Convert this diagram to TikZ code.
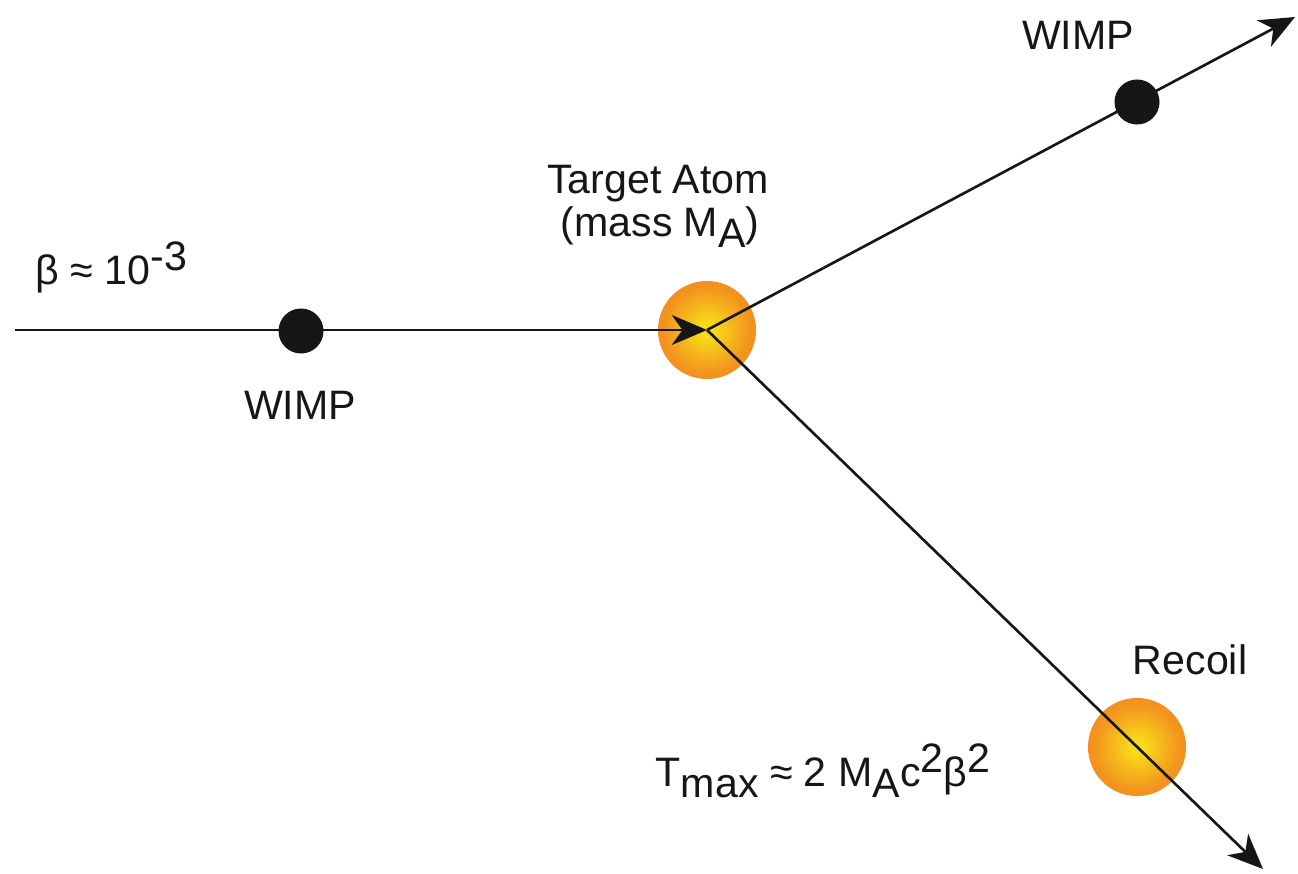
\documentclass[tikz,border=0pt]{standalone}
\usepackage{fontspec}
\setmainfont{Liberation Sans}
\usetikzlibrary{arrows.meta}

\definecolor{glowcore}{RGB}{248,220,25}
\definecolor{glowmid}{RGB}{243,148,30}
\definecolor{glowrim}{RGB}{238,124,36}
\definecolor{ink}{RGB}{22,22,22}

\pgfdeclareradialshading{atomglow}{\pgfpoint{0bp}{0bp}}{%
  color(0bp)=(glowcore); color(3bp)=(glowcore); color(22bp)=(glowmid);
  color(42bp)=(glowrim); color(50bp)=(glowrim)}

% raised / lowered indices at full size
\newcommand{\hi}[1]{\raisebox{0.32em}{#1}}
\newcommand{\lo}[1]{\raisebox{-0.27em}{#1}}

\tikzset{
  track/.style={draw=ink, line width=0.75pt, -{Stealth[length=10pt,width=8.5pt,inset=3pt]}},
  wimpdot/.style={circle, fill=ink, inner sep=0pt, minimum size=0.45cm},
  atom/.style={circle, shading=atomglow, inner sep=0pt, minimum size=0.98cm},
  lbl/.style={font=\fontsize{11.7}{14}\selectfont, text=ink, inner sep=0pt},
}

\begin{document}
\begin{tikzpicture}[x=0.01cm, y=-0.01cm]
  \useasboundingbox (0,0) rectangle (1298,873);

  % target atom and recoiling atom
  \node[atom] (target) at (707,330) {};
  \node[atom] (recoil) at (1137,747) {};

  % free ends of the tracks
  \coordinate (source) at (15,330);
  \coordinate (scatterend) at (1295,17);
  \coordinate (recoilend) at (1263,869);

  % tracks
  \draw[track] (source) -- (target.center);
  \draw[track] (target.center) -- (scatterend);
  \draw[track] (target.center) -- (recoilend);

  % WIMPs on their tracks
  \node[wimpdot] (wimpin) at (301,331) {};
  \node[wimpdot] (wimpout) at (1137,102) {};

  % labels
  \node[lbl, anchor=base west] (beta) at (35,284) {β ≈ 10\hi{-3}};
  \node[lbl] (wimpinlbl) at (300,405) {WIMP};
  \node[lbl, anchor=base] (targetlbl) at (658,193) {Target Atom};
  \node[lbl, anchor=base] (masslbl) at (660,236) {(mass M\lo{A})};
  \node[lbl] (wimpoutlbl) at (1078,35) {WIMP};
  \node[lbl] (recoillbl) at (1190,660) {Recoil};
  \node[lbl, anchor=base west] (tmax) at (655,786)
    {T\lo{max} ≈ 2 M\lo{A}c\hi{2}β\hi{2}};
\end{tikzpicture}
\end{document}
